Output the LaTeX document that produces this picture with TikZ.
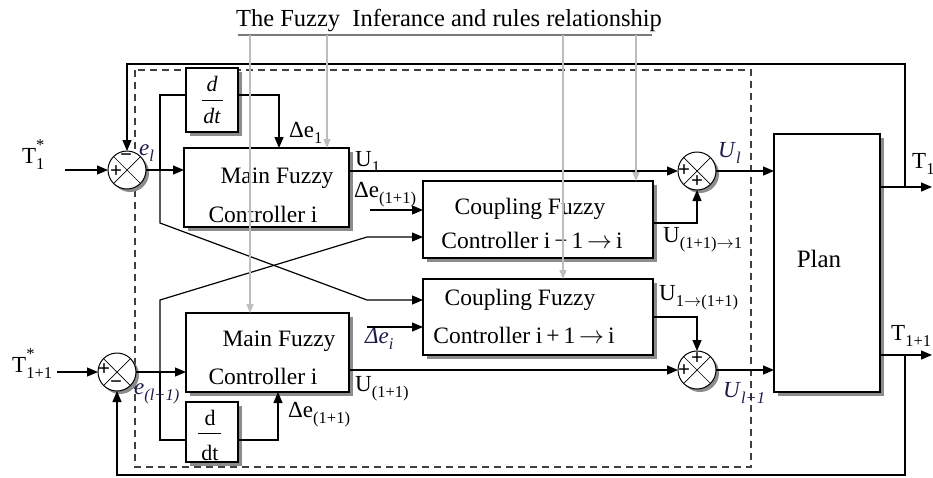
\documentclass[tikz,border=0pt]{standalone}
\usepackage{fontspec}
\setmainfont{Liberation Serif}
\usetikzlibrary{arrows.meta,shadows,calc}
\definecolor{ggray}{HTML}{BDBDBD}
\definecolor{ugray}{HTML}{7A7A7A}
\definecolor{navy}{HTML}{1C1C4A}
\newcommand{\fsz}{\fontsize{23.5}{27}\selectfont}
\newcommand{\lsz}{\fontsize{23}{26}\selectfont}
\newcommand{\lo}[1]{\raisebox{-0.3em}{\fontsize{16.5}{17}\selectfont #1}}
\newcommand{\hi}[1]{\raisebox{0.55em}{\fontsize{16.5}{17}\selectfont #1}}
\newcommand{\ar}{\,$\rightarrow$\,}
\begin{document}
\begin{tikzpicture}[x=1pt,y=-1pt,
  box/.style={draw=black, line width=1.2pt, fill=white, inner sep=0pt, outer sep=0pt,
    drop shadow={shadow xshift=4pt, shadow yshift=-4pt, fill=black!45, opacity=1}},
  sumc/.style={circle, draw=black, line width=1pt, fill=white, minimum size=38pt, inner sep=0pt, outer sep=0pt,
    drop shadow={shadow xshift=3pt, shadow yshift=-3pt, fill=black!45, opacity=1}},
  ln/.style={line width=1.2pt},
  arr/.style={line width=1.2pt, -{Triangle[length=11pt,width=9pt]}},
  garr/.style={ggray, line width=1.4pt, -{Triangle[length=9pt,width=7pt]}},
  txt/.style={font=\fsz, inner sep=0pt, anchor=base},
  lab/.style={font=\lsz, inner sep=0pt, anchor=base west},
  sgn/.style={font=\bfseries\fontsize{21}{21}\selectfont, inner sep=0pt}]
\useasboundingbox (0,0) rectangle (933,477);

% dashed frame
\draw[dashed, dash pattern=on 7pt off 5pt, line width=1.1pt, black!75] (135,70) rectangle (751,467);

% blocks
\node[box, minimum width=165pt, minimum height=79pt] (main1) at (266.5,187.5) {};
\node[box, minimum width=163pt, minimum height=79pt] (main2) at (267.5,352.5) {};
\node[box, minimum width=52pt, minimum height=64pt] (ddt1) at (212,100) {};
\node[box, minimum width=52pt, minimum height=60pt] (ddt2) at (212,432) {};
\node[box, minimum width=230pt, minimum height=77pt] (coup1) at (538,219.5) {};
\node[box, minimum width=230pt, minimum height=76pt] (coup2) at (538,317) {};
\node[box, minimum width=106pt, minimum height=258pt] (plan) at (827,263) {};

% summing junctions
\node[sumc] (s1) at (127,170) {};
\node[sumc] (s2) at (117,372) {};
\node[sumc] (s3) at (697,171) {};
\node[sumc] (s4) at (697,370) {};
\foreach \s in {s1,s2,s3,s4}{
  \draw[line width=0.7pt] (\s.north west) -- (\s.south east) (\s.north east) -- (\s.south west);}
\node[sgn] at (126,158) {−};
\node[sgn] at (116,172) {+};
\node[sgn] at (104,370) {+};
\node[sgn] at (116,385) {−};
\node[sgn] at (684,171) {+};
\node[sgn] at (697,182) {+};
\node[sgn] at (697,359) {+};
\node[sgn] at (684,371) {+};

% block texts
\node[txt] (m1a) at (277,183) {Main Fuzzy};
\node[txt] (m1b) at (263,222) {Controller i};
\node[txt] (m2a) at (279,346) {Main Fuzzy};
\node[txt] (m2b) at (263,384) {Controller i};
\node[txt] (c1a) at (530,214) {Coupling\ Fuzzy};
\node[txt] (c1b) at (532,248) {Controller i\,−\,1\ar i};
\node[txt] (c2a) at (520,305) {Coupling\ Fuzzy};
\node[txt] (c2b) at (524,343) {Controller i\,+\,1\ar i};
\node[txt, font=\fontsize{25}{28}\selectfont] (pl) at (819,267) {Plan};
\node[txt, font=\fontsize{22}{24}\selectfont\itshape] (d1a) at (212,91) {d};
\node[txt, font=\fontsize{22}{24}\selectfont\itshape] (d1b) at (212,123) {dt};
\draw[line width=0.9pt] (202,100) -- (223,100);
\node[txt, font=\fontsize{22}{24}\selectfont] (d2a) at (210,425) {d};
\node[txt, font=\fontsize{22}{24}\selectfont] (d2b) at (210,460) {dt};
\draw[line width=0.9pt] (198,433) -- (221,433);

% coordinates
\coordinate (in1) at (65,170);
\coordinate (in2) at (57,372);
\coordinate (j1) at (160,170);
\coordinate (j2) at (160,372);
\coordinate (a1) at (160,95);
\coordinate (a2) at (160,223);
\coordinate (a3) at (367,300);
\coordinate (b1) at (160,440);
\coordinate (b2) at (160,300);
\coordinate (b3) at (367,237);
\coordinate (c1) at (279,95);
\coordinate (c2) at (278,440);
\coordinate (d1) at (370,210);
\coordinate (d2) at (367,327);
\coordinate (e1) at (697,223);
\coordinate (e2) at (697,317);
\coordinate (o1) at (932,187);
\coordinate (o2) at (932,355);
\coordinate (f1) at (905,187);
\coordinate (f2) at (905,64);
\coordinate (f3) at (905,355);
\coordinate (f4) at (905,475);

% connectors
\draw[arr] (in1) -- (s1.west);
\draw[arr] (in2) -- (s2.west);
\draw[arr] (s1.east) -- (s1 -| main1.west);
\draw[arr] (s2.east) -- (s2 -| main2.west);
\draw[ln] (ddt1.west |- a1) -- (a1) -- (j1);
\draw[arr] (j1) -- (a2) -- (a3) -- (a3 -| coup2.west);
\draw[ln] (ddt2.west |- b1) -- (b1) -- (j2);
\draw[arr] (j2) -- (b2) -- (b3) -- (b3 -| coup1.west);
\draw[arr] (ddt1.east |- c1) -- (c1) -- (c1 |- main1.north);
\draw[arr] (ddt2.east |- c2) -- (c2) -- (c2 |- main2.south);
\draw[arr] (d1) -- (d1 -| coup1.west);
\draw[arr] (d2) -- (d2 -| coup2.west);
\draw[arr] (s3 -| main1.east) -- (s3.west);
\draw[arr] (s4 -| main2.east) -- (s4.west);
\draw[arr] (e1 -| coup1.east) -- (e1) -- (s3.south);
\draw[arr] (e2 -| coup2.east) -- (e2) -- (s4.north);
\draw[arr] (s3.east) -- (s3 -| plan.west);
\draw[arr] (s4.east) -- (s4 -| plan.west);
\draw[arr] (o1 -| plan.east) -- (o1);
\draw[arr] (o2 -| plan.east) -- (o2);
\draw[arr] (f1) -- (f2) -- (f2 -| s1) -- (s1.north);
\draw[arr] (f3) -- (f4) -- (f4 -| s2) -- (s2.south);

% title and grey relationship arrows
\node[txt, font=\fontsize{24.5}{28}\selectfont] (title) at (449,26) {The Fuzzy\ \ Inferance and rules relationship};
\coordinate (t0) at (238,35);
\coordinate (t1) at (652,35);
\draw[ugray, line width=1.5pt] (t0) -- (t1);
\coordinate (g1) at (250,35);
\coordinate (g2) at (327,35);
\coordinate (g3) at (563,35);
\coordinate (g4) at (636,35);
\draw[garr] (g1) -- (g1 |- main2.north);
\draw[garr] (g2) -- (g2 |- main1.north);
\draw[garr] (g3) -- (g3 |- coup2.north);
\draw[garr] (g4) -- (g4 |- coup1.north);

% signal labels
\node[lab] (lT1) at (22,163) {T\rlap{\hi{*}}\lo{1}};
\node[lab] (lT2) at (12,372) {T\rlap{\hi{*}}\lo{1+1}};
\node[lab, navy] (le1) at (139,155) {\textit{e}\lo{\textit{l}}};
\node[lab, navy] (le2) at (134,394) {\textit{e}\lo{\textit{(l+1)}}};
\node[lab] (lde1) at (289,137) {Δe\lo{1}};
\node[lab] (lU1) at (355,166) {U\lo{1}};
\node[lab] (lde2) at (354,197) {Δe\lo{(1+1)}};
\node[lab, navy] (ldei) at (365,343) {\textit{Δe}\lo{\textit{i}}};
\node[lab] (lU2) at (355,391) {U\lo{(1+1)}};
\node[lab] (lde3) at (288,417) {Δe\lo{(1+1)}};
\node[lab, navy] (lUl) at (718,157) {\textit{U}\lo{\textit{l}}};
\node[lab] (lU21) at (663,242) {U\lo{(1+1)$\rightarrow$1}};
\node[lab] (lU12) at (659,300) {U\lo{1$\rightarrow$(1+1)}};
\node[lab, navy] (lUl1) at (723,397) {\textit{U}\lo{\textit{l+1}}};
\node[lab] (lTo1) at (912,168) {T\lo{1}};
\node[lab] (lTo2) at (891,340) {T\lo{1+1}};
\end{tikzpicture}
\end{document}
